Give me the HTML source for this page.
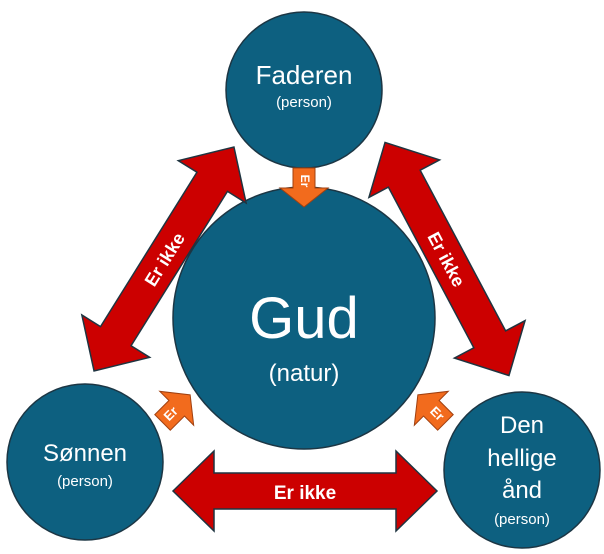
<!DOCTYPE html>
<html><head><style>body{margin:0;background:#fff}svg{display:block}</style></head><body>
<svg width="604" height="554" viewBox="0 0 604 554" xmlns="http://www.w3.org/2000/svg" font-family="Liberation Sans, sans-serif">
<defs>
<polygon id="dbl" points="-132,0 -91,-40 -91,-18 91,-18 91,-40 132,0 91,40 91,18 -91,18 -91,40" fill="#cc0000" stroke="#1f3440" stroke-width="1.5"/>
<polygon id="er" points="-11,-19 11,-19 11,1 24,1 0,20 -24,1 -11,1" fill="#f26b1d" stroke="#a04010" stroke-width="1"/>
</defs>
<g fill="#0d6080" stroke="#1c3644" stroke-width="1.5">
<circle cx="304" cy="90" r="78"/>
<circle cx="304" cy="318" r="131"/>
<circle cx="85" cy="462" r="78"/>
<circle cx="522" cy="470" r="78"/>
</g>
<g transform="translate(164,259) rotate(-58)"><use href="#dbl"/><text x="0" y="7" text-anchor="middle" font-size="18" font-weight="bold" fill="#fff">Er ikke</text></g>
<g transform="translate(447,259) rotate(62)"><use href="#dbl"/><text x="0" y="7" text-anchor="middle" font-size="18" font-weight="bold" fill="#fff">Er ikke</text></g>
<g transform="translate(305,491)"><use href="#dbl"/><text x="0" y="8" text-anchor="middle" font-size="19" font-weight="bold" fill="#fff">Er ikke</text></g>
<g transform="translate(304,187)"><use href="#er"/><text x="0" y="-3" text-anchor="middle" font-size="12" font-weight="bold" fill="#fff" transform="rotate(90 0 -6)">Er</text></g>
<g transform="translate(176,409) rotate(-135)"><use href="#er"/><text x="0" y="-3" text-anchor="middle" font-size="13" font-weight="bold" fill="#fff" transform="rotate(90 0 -7)">Er</text></g>
<g transform="translate(432,409) rotate(135)"><use href="#er"/><text x="0" y="-3" text-anchor="middle" font-size="13" font-weight="bold" fill="#fff" transform="rotate(-90 0 -7)">Er</text></g>
<g fill="#fff" text-anchor="middle">
<text x="304" y="84" font-size="26">Faderen</text>
<text x="304" y="107" font-size="15">(person)</text>
<text x="304" y="338" font-size="58">Gud</text>
<text x="304" y="381" font-size="24">(natur)</text>
<text x="85" y="461" font-size="24">Sønnen</text>
<text x="85" y="486" font-size="15">(person)</text>
<text x="522" y="433" font-size="24">Den</text>
<text x="522" y="466" font-size="24">hellige</text>
<text x="522" y="498" font-size="24">ånd</text>
<text x="522" y="524" font-size="15">(person)</text>
</g>
</svg>
</body></html>
